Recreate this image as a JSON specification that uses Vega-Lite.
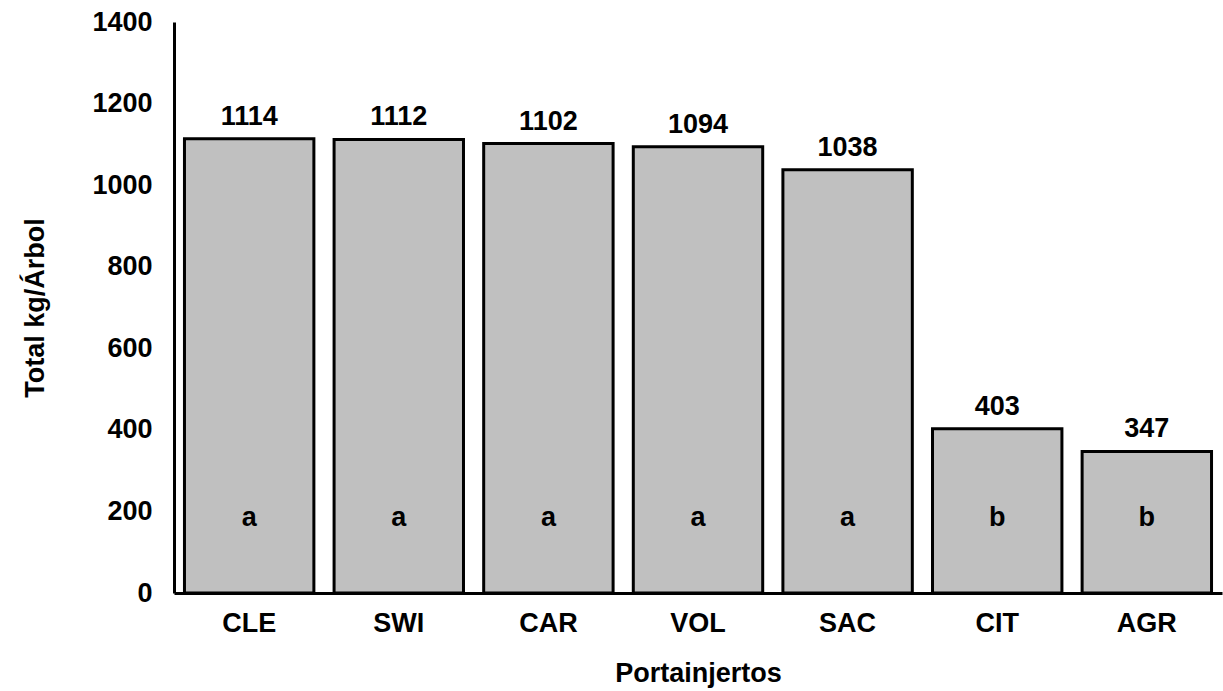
{
  "$schema": "https://vega.github.io/schema/vega-lite/v6.json",
  "width": 1048,
  "height": 571,
  "autosize": "none",
  "padding": {"left": 174, "top": 22, "right": 1, "bottom": 98},
  "background": "white",
  "config": {
    "view": {"stroke": null},
    "font": "Liberation Sans",
    "axis": {"grid": false, "ticks": false, "domainColor": "black", "domainWidth": 3, "labelColor": "black", "titleColor": "black", "labelFont": "Liberation Sans", "titleFont": "Liberation Sans", "labelFontWeight": "bold", "titleFontWeight": "bold"}
  },
  "data": {
    "values": [
      {"portainjerto": "CLE", "total": 1114, "letra": "a"},
      {"portainjerto": "SWI", "total": 1112, "letra": "a"},
      {"portainjerto": "CAR", "total": 1102, "letra": "a"},
      {"portainjerto": "VOL", "total": 1094, "letra": "a"},
      {"portainjerto": "SAC", "total": 1038, "letra": "a"},
      {"portainjerto": "CIT", "total": 403, "letra": "b"},
      {"portainjerto": "AGR", "total": 347, "letra": "b"}
    ]
  },
  "encoding": {
    "x": {
      "field": "portainjerto", "type": "nominal", "sort": null,
      "scale": {"paddingInner": 0.135, "paddingOuter": 0.07},
      "axis": {"title": "Portainjertos", "labelAngle": 0, "labelFontSize": 27, "titleFontSize": 27, "labelPadding": 17, "titlePadding": 24}
    }
  },
  "layer": [
    {
      "mark": {"type": "bar", "fill": "#c0c0c0", "stroke": "black", "strokeWidth": 3},
      "encoding": {
        "y": {
          "field": "total", "type": "quantitative",
          "scale": {"domain": [0, 1400], "nice": false},
          "axis": {"title": "Total kg/Árbol", "format": "d", "values": [0, 200, 400, 600, 800, 1000, 1200, 1400], "labelFontSize": 27, "titleFontSize": 27, "labelPadding": 22, "titlePadding": 42}
        }
      }
    },
    {
      "mark": {"type": "text", "fontSize": 27, "fontWeight": "bold", "baseline": "bottom", "dy": -8, "color": "black"},
      "encoding": {
        "y": {"field": "total", "type": "quantitative"},
        "text": {"field": "total", "type": "quantitative"}
      }
    },
    {
      "mark": {"type": "text", "fontSize": 27, "fontWeight": "bold", "baseline": "middle", "color": "black"},
      "encoding": {
        "y": {"datum": 185},
        "text": {"field": "letra", "type": "nominal"}
      }
    }
  ]
}
